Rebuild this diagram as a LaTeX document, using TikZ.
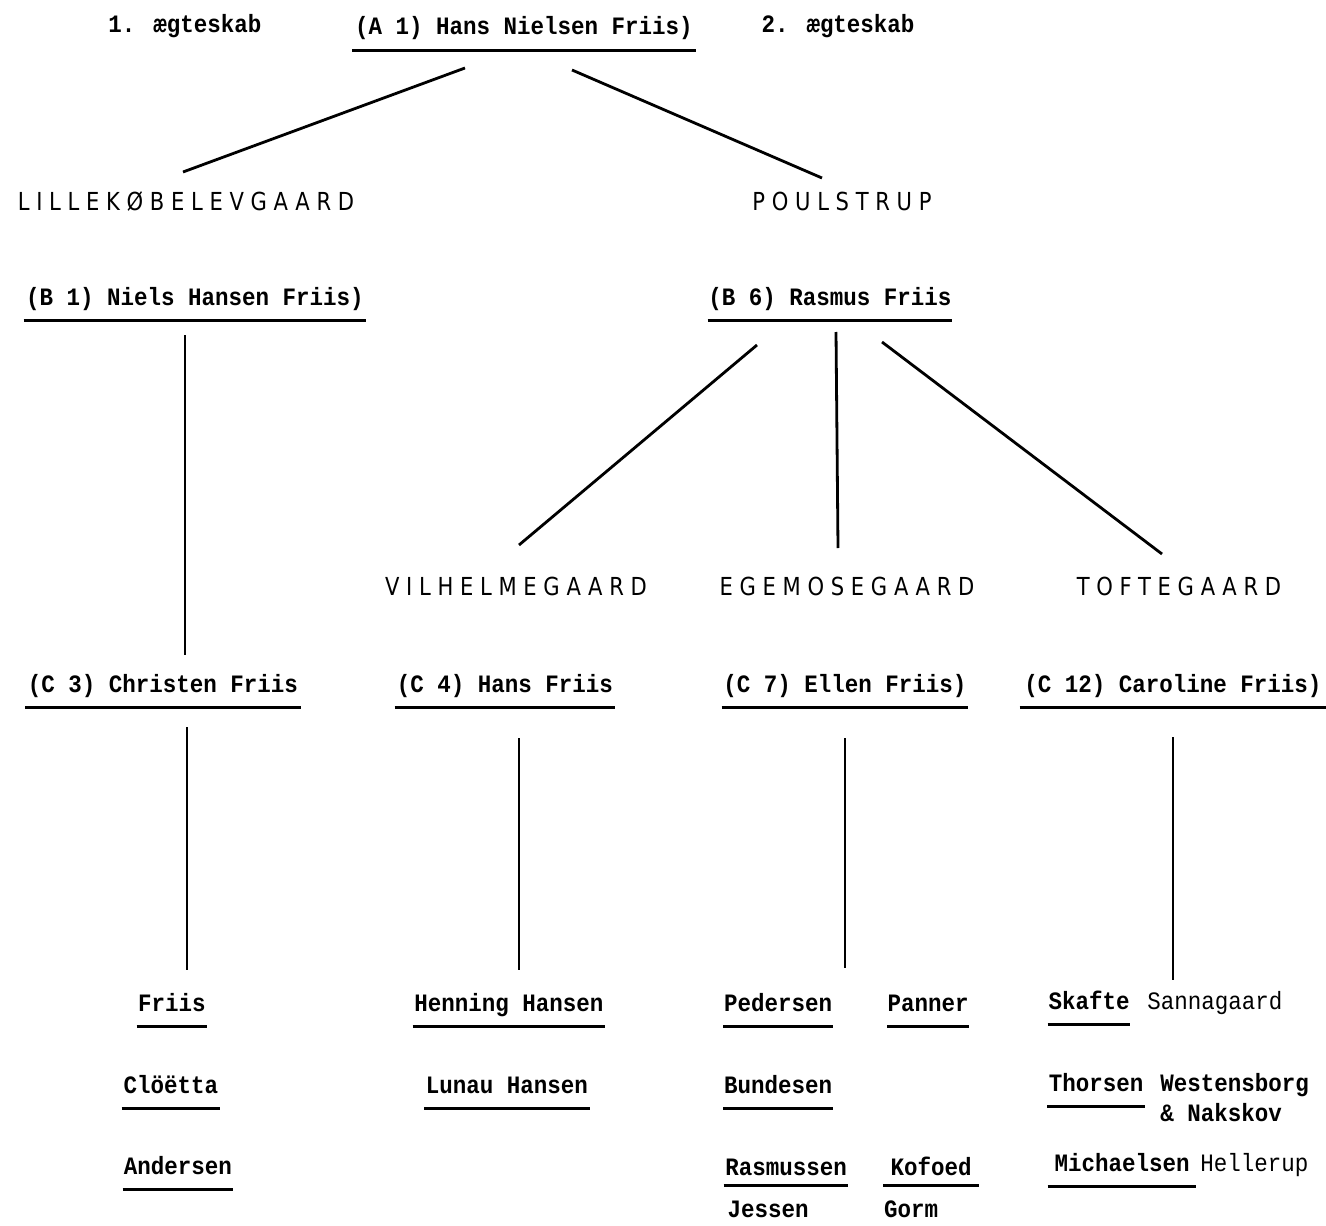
\documentclass[tikz,border=0pt]{standalone}
\usepackage{fontspec}
\usetikzlibrary{positioning,calc}
\newfontfamily\namefont[FakeStretch=0.9]{Liberation Mono}
\newfontfamily\farmfont[FakeStretch=0.85,LetterSpace=27]{DejaVu Sans}

\begin{document}
\begin{tikzpicture}[x=0.5pt, y=-0.5pt,
    kin/.style={font=\namefont\fontsize{12.5}{14}\selectfont\bfseries, anchor=base,
        inner xsep=0pt, inner ysep=0pt, text depth=7.5pt},
    kinplain/.style={kin, font=\namefont\fontsize{12.5}{14}\selectfont},
    underl/.style={minimum width=#1*0.5pt,
        append after command={(\tikzlastnode.south west) edge[ruling] (\tikzlastnode.south east)}},
    ruling/.style={draw, line width=1.2pt},
    farm/.style={font=\farmfont\fontsize{12.4}{14}\selectfont, anchor=base, inner sep=0pt},
    link/.style={line width=1.4pt}]

    \useasboundingbox (0,0) rectangle (1326,1225);

    % generation A
    \node[kin] (mar1) at (185,33) {1. ægteskab};
    \node[kin, underl=343] (a1) at (524,35) {(A 1) Hans Nielsen Friis)};
    \node[kin] (mar2) at (838,33) {2. ægteskab};

    \node[farm] (lille) at (186,211) {LILLEKØBELEVGAARD};
    \node[farm] (poul) at (842,211) {POULSTRUP};

    % generation B
    \node[kin, underl=342] (b1) at (195,305) {(B 1) Niels Hansen Friis)};
    \node[kin, underl=244] (b6) at (830,305) {(B 6) Rasmus Friis};

    \node[farm] (vilh) at (516,595) {VILHELMEGAARD};
    \node[farm] (egem) at (847,595) {EGEMOSEGAARD};
    \node[farm] (toft) at (1179,595) {TOFTEGAARD};

    % generation C
    \node[kin, underl=275] (c3) at (163,692) {(C 3) Christen Friis};
    \node[kin, underl=220] (c4) at (505,692) {(C 4) Hans Friis};
    \node[kin, underl=246] (c7) at (845,692) {(C 7) Ellen Friis)};
    \node[kin, underl=306] (c12) at (1173,692) {(C 12) Caroline Friis)};

    \coordinate (c7end) at (845,968);
    \coordinate (c12end) at (1173,980);

    % descendants
    \node[kin, underl=70] (friis) at (172,1011) {Friis};
    \node[kin, underl=98] (cloetta) at (171,1093) {Clöëtta};
    \node[kin, underl=110] (andersen) at (178,1174) {Andersen};

    \node[kin, underl=192] (henning) at (509,1011) {Henning Hansen};
    \node[kin, underl=165] (lunau) at (507,1093) {Lunau Hansen};

    \node[kin, underl=109] (pedersen) at (778,1011) {Pedersen};
    \node[kin, underl=80] (panner) at (928,1011) {Panner};
    \node[kin, underl=109] (bundesen) at (778,1093) {Bundesen};
    \node[kin, underl=124, text depth=5pt] (rasmussen) at (786,1175) {Rasmussen};
    \node[kin, underl=95, text depth=5pt] (kofoed) at (931,1175) {Kofoed};
    \node[kin] (jessen) at (768,1217) {Jessen};
    \node[kin] (gorm) at (911,1217) {Gorm};

    \node[kin, underl=82] (skafte) at (1089,1009) {Skafte};
    \node[kinplain, anchor=base west] (sanna) at (1147,1009) {Sannagaard};
    \node[kin, underl=97] (thorsen) at (1096,1091) {Thorsen};
    \node[kin, anchor=base west] (westen) at (1160,1091) {Westensborg};
    \node[kin, anchor=base west] (naks) at (1160,1121) {\& Nakskov};
    \node[kin, underl=148] (michael) at (1122,1171) {Michaelsen};
    \node[kinplain, anchor=base west] (heller) at (1200,1171) {Hellerup};

    \draw[link] ($(a1.base)+(-59,33)$) -- ($(lille.base)+(-3,-39)$);
    \draw[link] ($(a1.base)+(48,35)$) -- ($(poul.base)+(-20,-33)$);

    \draw[link] ($(b1.base)+(-10,30)$) -- ($(c3.base)+(22,-37)$);
    \draw[link] ($(b6.base)+(-73,40)$) -- ($(vilh.base)+(3,-50)$);
    \draw[link] ($(b6.base)+(6,27)$) -- ($(egem.base)+(-9,-47)$);
    \draw[link] ($(b6.base)+(52,37)$) -- ($(toft.base)+(-17,-41)$);

    \draw[link] ($(c3.base)+(24,35)$) -- ($(friis.base)+(15,-41)$);
    \draw[link] ($(c4.base)+(14,46)$) -- ($(henning.base)+(10,-41)$);
    \draw[link] ($(c7.base)+(0,46)$) -- (c7end);
    \draw[link] ($(c12.base)+(0,45)$) -- (c12end);

\end{tikzpicture}
\end{document}
